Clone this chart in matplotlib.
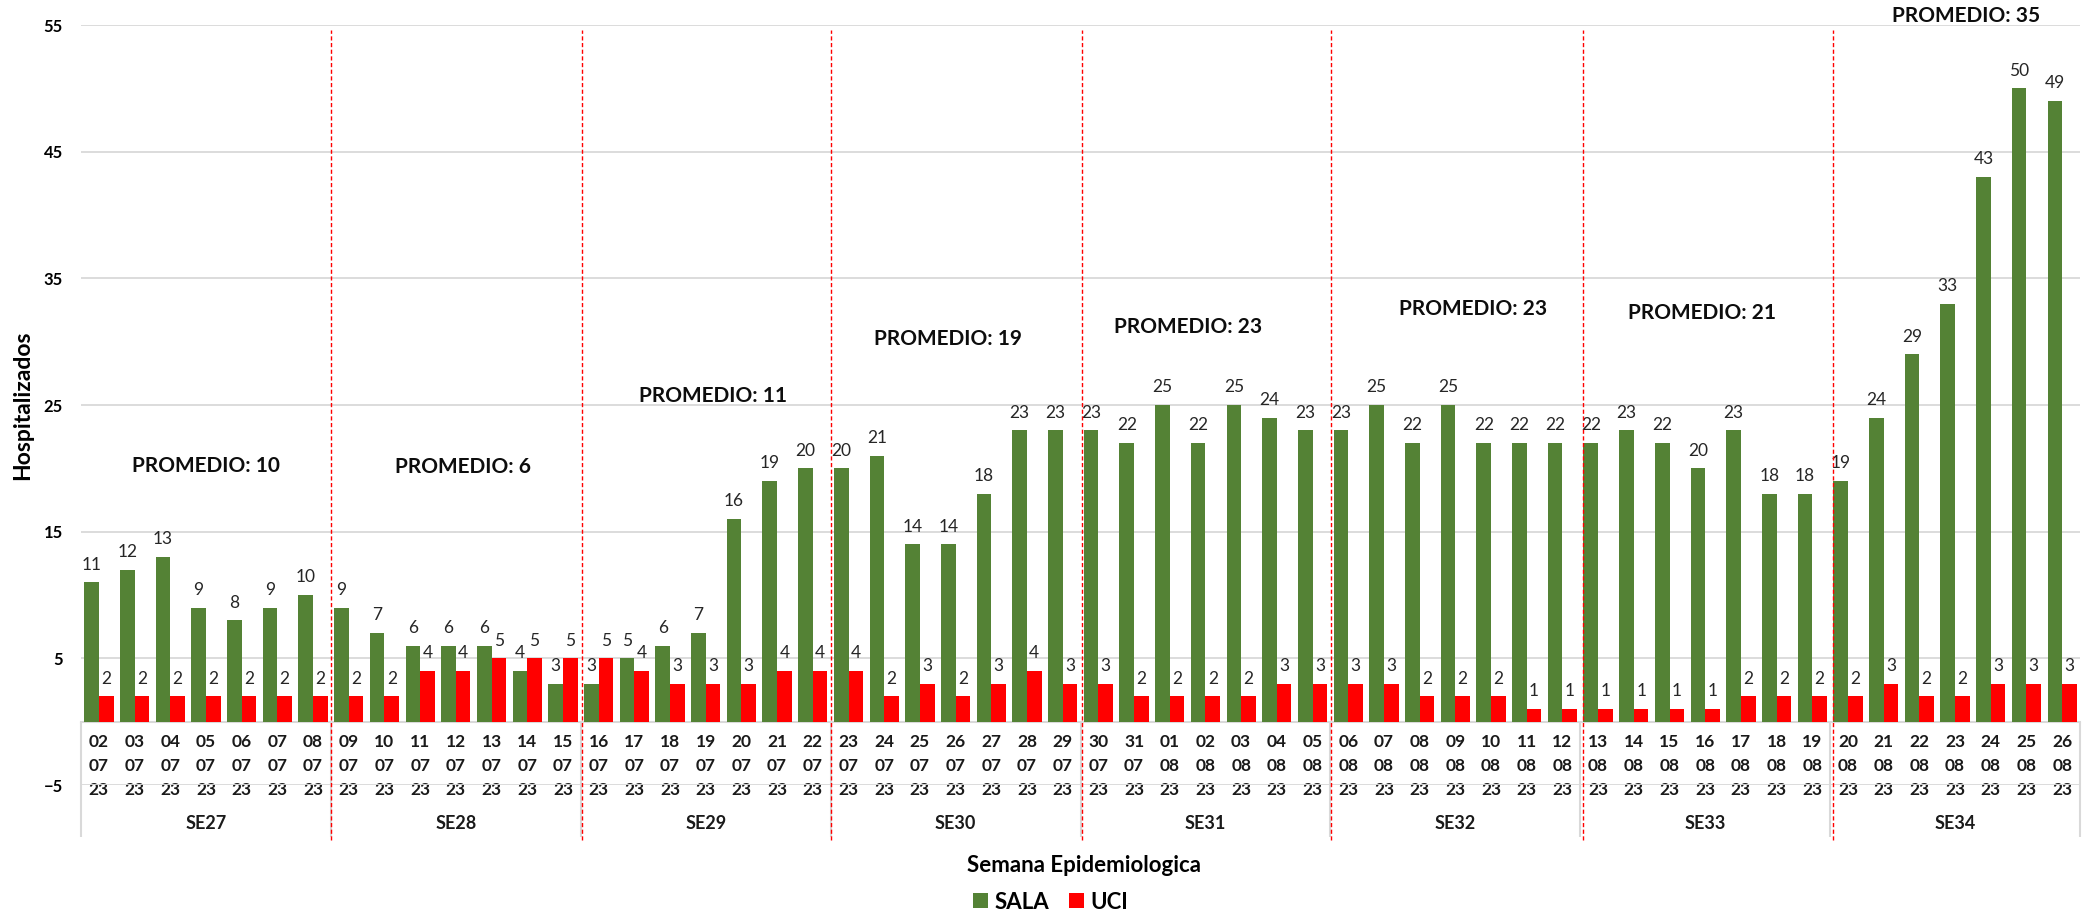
import matplotlib
matplotlib.use("Agg")
import matplotlib.pyplot as plt

plt.rcParams["font.family"] = ["Lato", "DejaVu Sans"]

dias = ["02", "03", "04", "05", "06", "07", "08",
        "09", "10", "11", "12", "13", "14", "15",
        "16", "17", "18", "19", "20", "21", "22",
        "23", "24", "25", "26", "27", "28", "29",
        "30", "31", "01", "02", "03", "04", "05",
        "06", "07", "08", "09", "10", "11", "12",
        "13", "14", "15", "16", "17", "18", "19",
        "20", "21", "22", "23", "24", "25", "26"]
meses = ["07"] * 30 + ["08"] * 26
semanas = ["SE27", "SE28", "SE29", "SE30", "SE31", "SE32", "SE33", "SE34"]

sala = [11, 12, 13, 9, 8, 9, 10,
        9, 7, 6, 6, 6, 4, 3,
        3, 5, 6, 7, 16, 19, 20,
        20, 21, 14, 14, 18, 23, 23,
        23, 22, 25, 22, 25, 24, 23,
        23, 25, 22, 25, 22, 22, 22,
        22, 23, 22, 20, 23, 18, 18,
        19, 24, 29, 33, 43, 50, 49]
uci = [2, 2, 2, 2, 2, 2, 2,
       2, 2, 4, 4, 5, 5, 5,
       5, 4, 3, 3, 3, 4, 4,
       4, 2, 3, 2, 3, 4, 3,
       3, 2, 2, 2, 2, 3, 3,
       3, 3, 2, 2, 2, 1, 1,
       1, 1, 1, 1, 2, 2, 2,
       2, 3, 2, 2, 3, 3, 3]
promedios = [10, 6, 11, 19, 23, 23, 21, 35]

# where the hand-placed texts / dashed lines sit
prom_x = [3.0, 10.2, 17.2, 23.8, 30.5, 38.5, 44.9, 52.3]
prom_y = [20.2, 20.1, 25.7, 30.2, 31.2, 32.6, 32.3, 55.7]
cortes = [6.5, 13.54, 20.5, 27.55, 34.52, 41.59, 48.59]

verde = "#548235"
rojo = "#FF0000"
gris = "#D9D9D9"

fig = plt.figure(figsize=(20.89, 9.15), dpi=100)
ax = fig.add_axes([0.0388, 0.142, 0.9569, 0.8306])

x = list(range(len(sala)))
w = 0.41
b1 = ax.bar([i - w / 2 for i in x], sala, w, color=verde, label="SALA", zorder=3)
b2 = ax.bar([i + w / 2 for i in x], uci, w, color=rojo, label="UCI", zorder=3)
ax.bar_label(b1, padding=7, fontsize=12.5, color="#262626")
ax.bar_label(b2, padding=7, fontsize=12.5, color="#262626")

ax.set_xlim(-0.5, len(sala) - 0.5)
ax.set_ylim(-5, 55)
ax.set_yticks(range(-5, 56, 10))
ax.grid(axis="y", color=gris, lw=1.3, zorder=0)
for s in ["top", "right", "left"]:
    ax.spines[s].set_visible(False)
ax.spines["bottom"].set_position(("data", 0))
ax.spines["bottom"].set_color(gris)
ax.spines["bottom"].set_linewidth(1.5)

ax.set_xticks(x)
ax.set_xticklabels([d + "\n" + m + "\n23" for d, m in zip(dias, meses)],
                   fontsize=12.5, fontweight="bold", color="#1a1a1a")
for t in ax.get_xticklabels():
    t.set_linespacing(1.62)
ax.tick_params(axis="x", length=0, pad=9)
ax.tick_params(axis="y", length=0, pad=13, labelsize=12)
for t in ax.get_yticklabels():
    t.set_fontweight("bold")

# tabla de categorias
lineas = ax.vlines([k * 7 - 0.5 for k in range(len(semanas) + 1)], -9.1, 0,
                   colors=gris, lw=1.5, zorder=1)
lineas.set_clip_on(False)
for k, s in enumerate(semanas):
    ax.text(k * 7 + 3, -8.0, s, ha="center", va="center", fontsize=13,
            fontweight="bold", color="#1a1a1a", clip_on=False)

rl = ax.vlines(cortes, -9.3, 54.6, colors=rojo, lw=1.0,
               linestyles=(0, (3, 1.8)), zorder=5)
rl.set_clip_on(False)

for px, py, p in zip(prom_x, prom_y, promedios):
    ax.text(px, py, "PROMEDIO: " + str(p), ha="center", va="center",
            fontsize=15, fontweight="bold", color="#0d0d0d", clip_on=False)

ax.set_ylabel("Hospitalizados", fontsize=16.5, fontweight="bold")
ax.yaxis.set_label_coords(-0.024, 0.5)
fig.text(0.519, 0.0546, "Semana Epidemiologica", ha="center", va="center",
         fontsize=16, fontweight="bold")

fig.legend(handles=[b1, b2], loc="center", bbox_to_anchor=(0.503, 0.014),
           ncol=2, frameon=False, prop={"weight": "bold", "size": 16},
           handlelength=0.65, handleheight=0.65, handletextpad=0.3,
           columnspacing=0.9, borderpad=0.1)

fig.savefig("out.png", dpi=100)
